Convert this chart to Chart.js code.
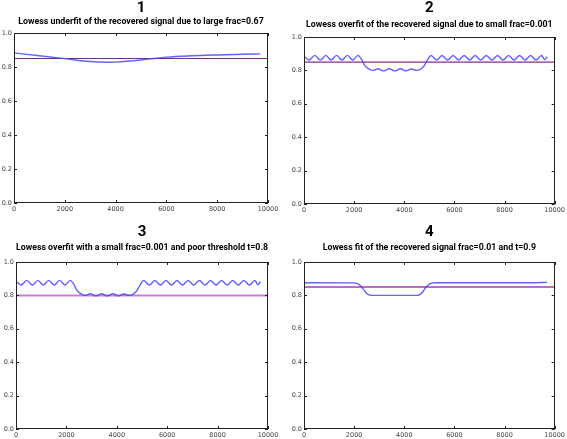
<!DOCTYPE html>
<html>
<head>
<meta charset="utf-8">
<script src="https://cdn.jsdelivr.net/npm/chart.js@4.4.1/dist/chart.umd.min.js"></script>
<style>
  body { margin: 0; background: #fff; width: 567px; height: 439px; overflow: hidden; }
  canvas { position: absolute; }
</style>
</head>
<body>
<canvas id="c1" width="283" height="220" style="left:0;top:0"></canvas>
<canvas id="c2" width="284" height="220" style="left:283px;top:0"></canvas>
<canvas id="c3" width="283" height="219" style="left:0;top:220px"></canvas>
<canvas id="c4" width="284" height="219" style="left:283px;top:220px"></canvas>
<script>
// axes
const xTicks = [0, 2000, 4000, 6000, 8000, 10000];
const yTicks = [0.0, 0.2, 0.4, 0.6, 0.8, 1.0];

// panel texts
const panelNumbers = ['1', '2', '3', '4'];
const panelTitles = [
  'Lowess underfit of the recovered signal due to large frac=0.67',
  'Lowess overfit of the recovered signal due to small frac=0.001',
  'Lowess overfit with a small frac=0.001 and poor threshold t=0.8',
  'Lowess fit of the recovered signal frac=0.01 and t=0.9'
];
const thresholds = [0.85, 0.85, 0.8, 0.85];

// panel 1 - underfit, frac=0.67
const underfitX = [0, 1000, 2000, 3000, 3600, 4000, 5000, 5500, 6000, 7000, 8000, 9000, 9700];
const underfitY = [0.883, 0.866, 0.849, 0.832, 0.828, 0.829, 0.841, 0.850, 0.858, 0.866, 0.871, 0.875, 0.877];

// panels 2 and 3 - overfit, frac=0.001
const overfitX = [0, 200, 430, 650, 870, 1080, 1300, 1520, 1730, 1950, 2150, 2280, 2400, 2550, 2750,
  2950, 3170, 3400, 3620, 3850, 4070, 4280, 4500, 4650, 4780, 4900, 5070, 5290, 5510, 5730, 5950,
  6170, 6390, 6610, 6830, 7050, 7270, 7500, 7720, 7940, 8160, 8380, 8600, 8820, 9040, 9260, 9480, 9600, 9700];
const overfitY = [0.885, 0.862, 0.890, 0.862, 0.890, 0.862, 0.890, 0.862, 0.890, 0.862, 0.890, 0.870, 0.835, 0.812, 0.800,
  0.810, 0.797, 0.810, 0.797, 0.810, 0.797, 0.808, 0.800, 0.808, 0.825, 0.855, 0.889, 0.862, 0.889, 0.862, 0.889,
  0.862, 0.889, 0.862, 0.889, 0.862, 0.889, 0.862, 0.889, 0.862, 0.889, 0.862, 0.889, 0.862, 0.889, 0.862, 0.889, 0.864, 0.882];

// panel 4 - fit, frac=0.01
const fitX = [0, 2000, 2100, 2200, 2300, 2400, 2500, 2600, 2700, 4500, 4600, 4700, 4800, 4900, 5000, 5100, 5200, 9000, 9700];
const fitY = [0.876, 0.875, 0.872, 0.865, 0.850, 0.830, 0.812, 0.803, 0.800, 0.800, 0.803, 0.815, 0.835, 0.855, 0.868, 0.873, 0.876, 0.876, 0.878];

const toPoints = (xs, ys) => xs.map((x, i) => ({ x: x, y: ys[i] }));

// matplotlib style box with inward ticks
const frame = {
  id: 'frame',
  afterDraw(chart) {
    const { ctx, chartArea: a, scales: { x, y } } = chart;
    ctx.save();
    ctx.strokeStyle = '#222';
    ctx.lineWidth = 1;
    ctx.strokeRect(Math.round(a.left) + 0.5, Math.round(a.top) + 0.5, Math.round(a.width) - 1, Math.round(a.height) - 1);
    ctx.beginPath();
    x.ticks.forEach(t => {
      const px = Math.round(x.getPixelForValue(t.value)) + 0.5;
      ctx.moveTo(px, a.bottom); ctx.lineTo(px, a.bottom - 3);
      ctx.moveTo(px, a.top); ctx.lineTo(px, a.top + 3);
    });
    y.ticks.forEach(t => {
      const py = Math.round(y.getPixelForValue(t.value)) + 0.5;
      ctx.moveTo(a.left, py); ctx.lineTo(a.left + 3, py);
      ctx.moveTo(a.right, py); ctx.lineTo(a.right - 3, py);
    });
    ctx.stroke();
    ctx.restore();
  }
};

const tickFont = { family: 'DejaVu Sans', size: 6.5 };

// geometry per panel: y-axis width, x-axis height, right pad, title paddings
const panels = [
  { id: 'c1', xs: underfitX, ys: underfitY, yW: 14, xH: 17, right: 15, tTop: 0, sTop: 0, sBot: 6, thColor: '#7d2a85', thW: 1.2 },
  { id: 'c2', xs: overfitX, ys: overfitY, yW: 21, xH: 16, right: 11, tTop: 0, sTop: 3, sBot: 7, thColor: '#8a2a90', thW: 1.2 },
  { id: 'c3', xs: overfitX, ys: overfitY, yW: 16, xH: 10, right: 15, tTop: 4, sTop: 2, sBot: 9, thColor: 'rgba(190,90,205,0.8)', thW: 2 },
  { id: 'c4', xs: fitX, ys: fitY, yW: 21, xH: 10, right: 10, tTop: 4, sTop: 2, sBot: 9, thColor: '#a83aae', thW: 1.5 }
];

panels.forEach((p, i) => {
  new Chart(document.getElementById(p.id), {
    type: 'line',
    data: {
      datasets: [
        {
          data: toPoints(p.xs, p.ys),
          borderColor: 'rgba(70,70,255,0.85)',
          borderWidth: 1.4,
          pointRadius: 0,
          cubicInterpolationMode: 'monotone'
        },
        {
          data: toPoints([0, 10000], [thresholds[i], thresholds[i]]),
          borderColor: p.thColor,
          borderWidth: p.thW,
          pointRadius: 0
        }
      ]
    },
    options: {
      responsive: false,
      animation: false,
      devicePixelRatio: 1,
      layout: { padding: { left: 0, right: p.right, top: 0, bottom: 0 } },
      plugins: {
        legend: { display: false },
        tooltip: { enabled: false },
        title: {
          display: true,
          text: panelNumbers[i],
          fullSize: false,
          color: '#000',
          font: { family: 'Roboto', weight: 'bold', size: 15, lineHeight: 1.12 },
          padding: { top: p.tTop, bottom: 0 }
        },
        subtitle: {
          display: true,
          text: panelTitles[i],
          fullSize: false,
          color: '#000',
          font: { family: 'Roboto', weight: 'bold', size: 8.8, lineHeight: 1.16 },
          padding: { top: p.sTop, bottom: p.sBot }
        }
      },
      scales: {
        x: {
          type: 'linear',
          min: xTicks[0],
          max: xTicks[xTicks.length - 1],
          afterBuildTicks: s => { s.ticks = xTicks.map(v => ({ value: v })); },
          afterFit: s => { s.height = p.xH; },
          grid: { display: false, drawTicks: false },
          border: { display: false },
          ticks: { color: '#444', font: tickFont, padding: 2, maxRotation: 0, callback: v => String(v) }
        },
        y: {
          type: 'linear',
          min: yTicks[0],
          max: yTicks[yTicks.length - 1],
          afterBuildTicks: s => { s.ticks = yTicks.map(v => ({ value: v })); },
          afterFit: s => { s.width = p.yW; },
          grid: { display: false, drawTicks: false },
          border: { display: false },
          ticks: { color: '#444', font: tickFont, padding: 2, callback: v => Number(v).toFixed(1) }
        }
      }
    },
    plugins: [frame]
  });
});
</script>
</body>
</html>
